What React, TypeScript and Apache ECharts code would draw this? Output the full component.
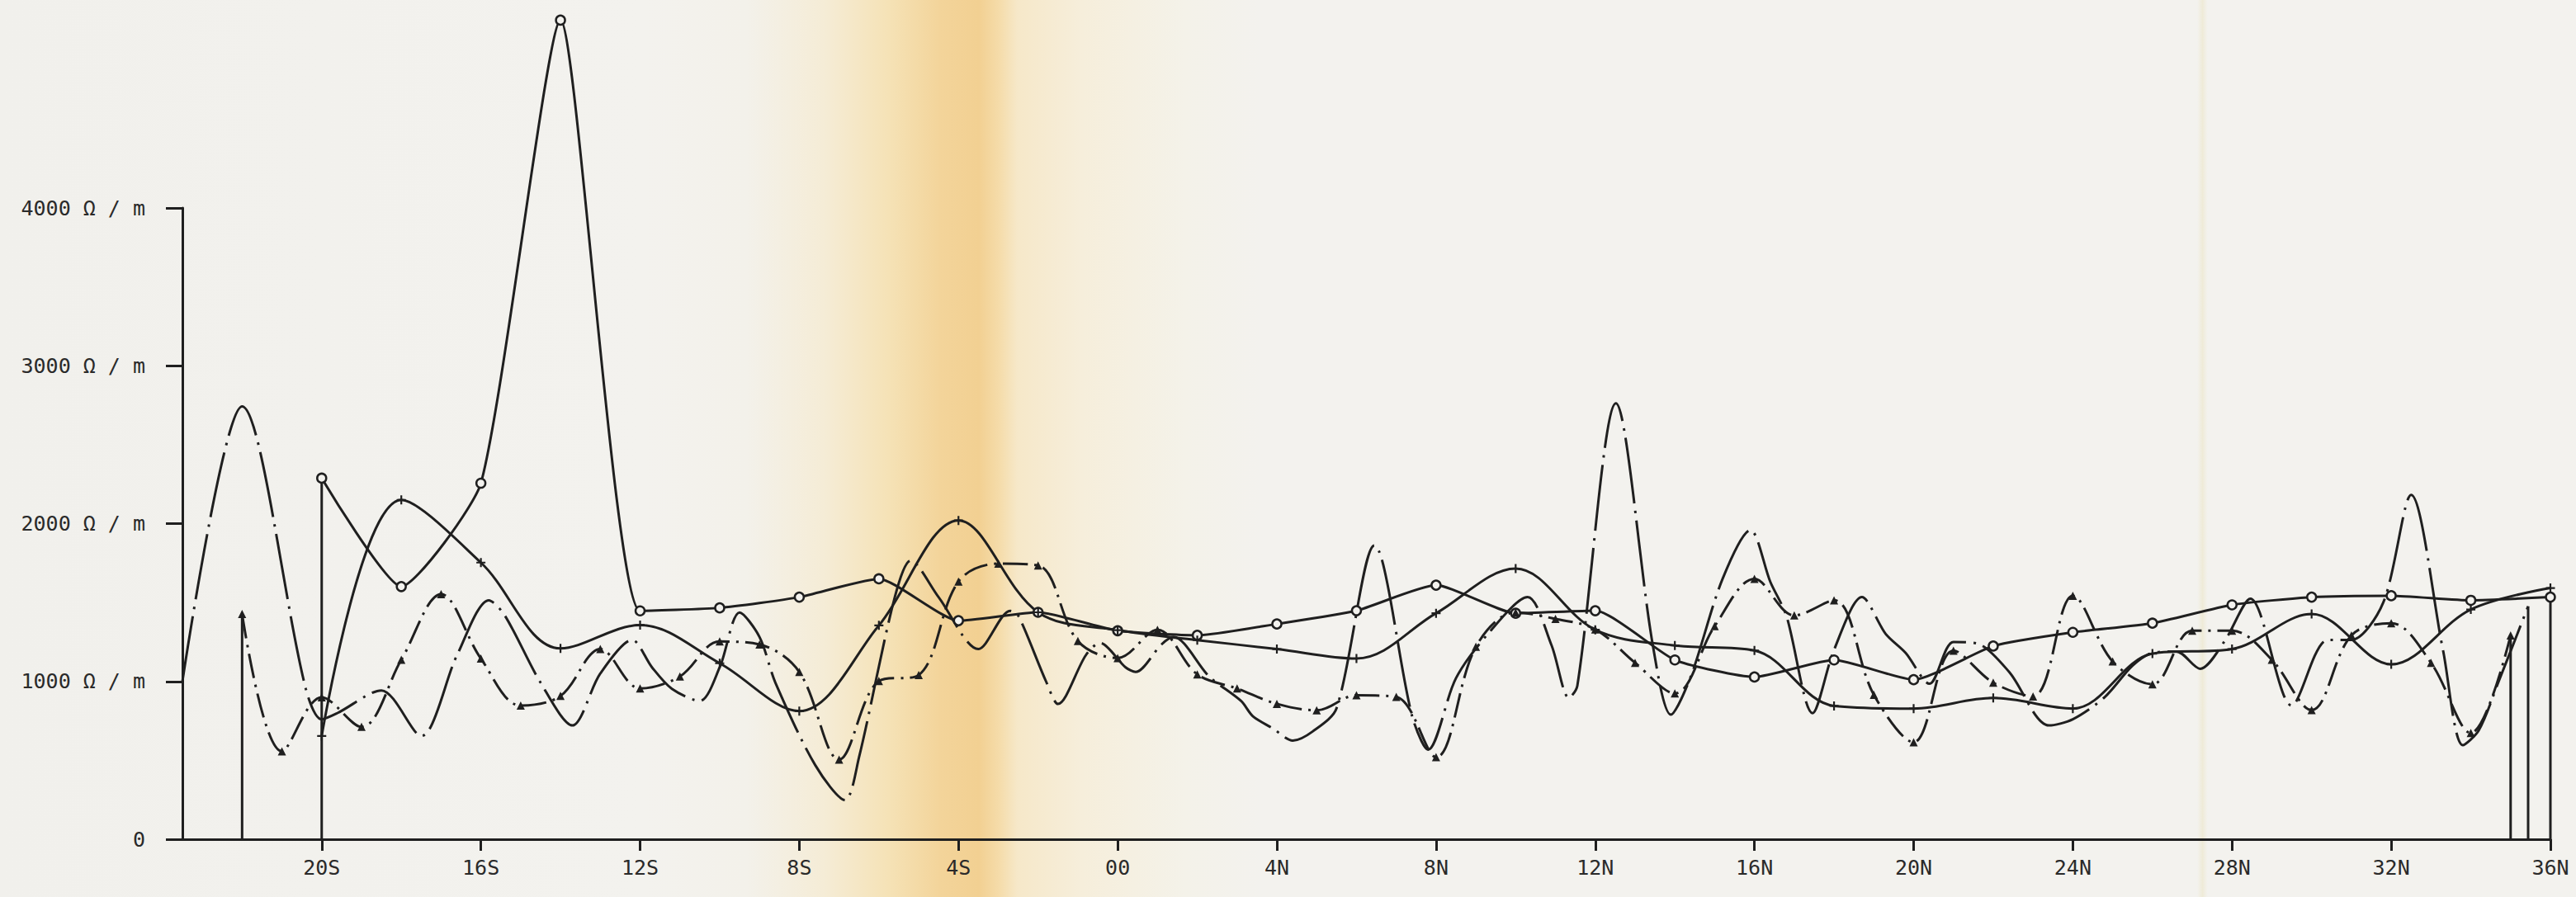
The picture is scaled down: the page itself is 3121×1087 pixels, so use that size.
import React, { useEffect, useRef } from 'react';
import * as echarts from 'echarts';

// Latitude ticks (negative = South, positive = North)
const xTicks = [-20, -16, -12, -8, -4, 0, 4, 8, 12, 16, 20, 24, 28, 32, 36];
const yTicks = [0, 1000, 2000, 3000, 4000];

// Series marked with open circles (solid line)
const circleSeries: [number, number][] = [
  [-20, 2288], [-18, 1601], [-16, 2256], [-14, 5190], [-12, 1447], [-10, 1466],
  [-8, 1534], [-6, 1650], [-4, 1385], [-2, 1438], [0, 1321], [2, 1292], [4, 1364],
  [6, 1448], [8, 1610], [10, 1432], [12, 1448], [14, 1136], [16, 1028], [18, 1136],
  [20, 1011], [22, 1224], [24, 1311], [26, 1369], [28, 1485], [30, 1534], [32, 1543],
  [34, 1514], [36, 1534],
];

// Series marked with crosses (solid line)
const plusSeries: [number, number][] = [
  [-20, 654], [-18, 2150], [-16, 1753], [-14, 1209], [-12, 1357], [-10, 1115],
  [-8, 812], [-6, 1355], [-4, 2020], [-2, 1438], [0, 1325], [2, 1262], [4, 1205],
  [6, 1145], [8, 1432], [10, 1715], [12, 1327], [14, 1228], [16, 1196], [18, 845],
  [20, 828], [22, 895], [24, 828], [26, 1176], [28, 1205], [30, 1427], [32, 1108],
  [34, 1456], [36, 1592],
];

// Series marked with triangles (dash-dot line)
const triangleSeries: [number, number][] = [
  [-22, 1427], [-21, 557], [-20, 900], [-19, 712], [-18, 1137], [-17, 1553],
  [-16, 1145], [-15, 847], [-14, 908], [-13, 1205], [-12, 955], [-11, 1031],
  [-10, 1253], [-9, 1234], [-8, 1060], [-7, 505], [-6, 1002], [-5, 1040],
  [-4, 1633], [-3, 1746], [-2, 1735], [-1, 1256], [0, 1148], [1, 1327], [2, 1045],
  [3, 955], [4, 858], [5, 817], [6, 912], [7, 902], [8, 520], [9, 1219], [10, 1437],
  [11, 1396], [12, 1330], [13, 1118], [14, 924], [15, 1350], [16, 1650], [17, 1418],
  [18, 1514], [19, 915], [20, 615], [21, 1195], [22, 992], [23, 905], [24, 1543],
  [25, 1127], [26, 982], [27, 1321], [28, 1321], [29, 1137], [30, 818], [31, 1292],
  [32, 1369], [33, 1118], [34, 673], [35, 1292],
];

// Series marked with dots (long dash-dot line with spikes)
const dotSeries: [number, number][] = [
  [-23.5, 1000], [-22, 2742], [-20.4, 953], [-20, 760], [-19.6, 800], [-18.5, 943],
  [-17.5, 654], [-16.6, 1166], [-15.8, 1514], [-15.4, 1418], [-14.5, 992],
  [-13.7, 721], [-13, 1050], [-12.2, 1263], [-11.7, 1089], [-11.2, 953],
  [-10.5, 876], [-10, 1089], [-9.5, 1437], [-9, 1282], [-8.6, 992], [-7.6, 470],
  [-6.85, 248], [-6.5, 518], [-5.6, 1534], [-5.2, 1766], [-4.5, 1534], [-3.5, 1205],
  [-2.7, 1447], [-2.5, 1418], [-1.8, 1000], [-1.5, 857], [-0.8, 1166], [-0.45, 1244],
  [0.2, 1089], [0.45, 1060], [1.1, 1234], [1.4, 1282], [2.3, 1031], [3.1, 876],
  [3.4, 779], [3.9, 702], [4.4, 625], [4.9, 683], [5.5, 830], [6.45, 1862],
  [7.4, 779], [7.8, 567], [8.5, 1020], [9.3, 1300], [10.3, 1534], [10.9, 1230],
  [11.34, 895], [11.55, 973], [12.52, 2762], [13.45, 1224], [13.9, 789], [14.4, 1031],
  [15.2, 1650], [15.9, 1959], [16.4, 1630], [16.8, 1418], [17.46, 799], [18, 1200],
  [18.7, 1534], [19.3, 1300], [19.8, 1180], [20.4, 985], [21, 1250], [21.6, 1240],
  [22.4, 1060], [23.4, 721], [24, 760], [24.8, 900], [25.5, 1100], [26, 1180],
  [26.6, 1190], [27.2, 1080], [27.8, 1250], [28.46, 1524], [29.5, 847], [30.4, 1263],
  [31, 1263], [31.8, 1500], [32.5, 2182], [33.3, 1200], [33.8, 596], [34.2, 690],
  [34.7, 1000], [35.44, 1476],
];

const latLabel = (v: number) => (v === 0 ? '00' : v < 0 ? `${-v}S` : `${v}N`);

export default function App() {
  const ref = useRef<HTMLDivElement>(null);

  useEffect(() => {
    if (!ref.current) return;
    const chart = echarts.init(ref.current, undefined, { renderer: 'svg' });
    const ink = '#1f1f1f';
    const paper = '#f3f2ee';
    const plusPath = 'path://M4,0H6V4H10V6H6V10H4V6H0V4H4Z';
    const labelFont = 'DejaVu Sans Mono';

    const drops = [
      circleSeries[0],
      circleSeries[circleSeries.length - 1],
      triangleSeries[0],
      triangleSeries[triangleSeries.length - 1],
      dotSeries[dotSeries.length - 1],
    ];

    const mainSeries: any[] = [
      {
        name: 'o',
        type: 'line',
        data: circleSeries,
        smooth: 0.18,
        clip: false,
        symbol: 'circle',
        symbolSize: 11,
        itemStyle: { color: paper, borderColor: ink, borderWidth: 2.5 },
        lineStyle: { color: ink, width: 3 },
        z: 3,
      },
      {
        name: '+',
        type: 'line',
        data: plusSeries,
        smooth: 0.35,
        clip: false,
        symbol: plusPath,
        symbolSize: 11,
        itemStyle: { color: ink },
        lineStyle: { color: ink, width: 3 },
        z: 3,
      },
      {
        name: '▲',
        type: 'line',
        data: triangleSeries,
        smooth: 0.35,
        clip: false,
        symbol: 'triangle',
        symbolSize: 10,
        itemStyle: { color: ink },
        lineStyle: { color: ink, width: 3, type: [30, 8, 3, 8] },
        z: 3,
      },
      {
        name: '·',
        type: 'line',
        data: dotSeries,
        smooth: 0.3,
        clip: false,
        symbol: 'none',
        lineStyle: { color: ink, width: 3, type: [80, 9, 3, 9] },
        z: 3,
      },
    ];

    const dropSeries = drops.map((p, i) => ({
      name: `drop${i}`,
      type: 'line',
      data: [[p[0], 0], p],
      symbol: 'none',
      clip: false,
      silent: true,
      lineStyle: { color: ink, width: 3 },
      z: 2,
    }));

    chart.setOption({
      animation: false,
      backgroundColor: 'transparent',
      grid: { left: 221, right: 31, top: 252, bottom: 70, containLabel: false, outerBoundsMode: 'none' },
      xAxis: {
        type: 'value',
        min: -23.5,
        max: 36,
        splitLine: { show: false },
        axisLine: { show: true, onZero: false, lineStyle: { color: ink, width: 3 } },
        axisTick: { show: true, customValues: xTicks, length: 14, lineStyle: { color: ink, width: 3 } },
        axisLabel: {
          customValues: xTicks,
          formatter: (v: number) => latLabel(v),
          margin: 22,
          fontSize: 25,
          fontFamily: labelFont,
          color: '#2a2a2a',
        },
      },
      yAxis: {
        type: 'value',
        min: 0,
        max: 4000,
        interval: 1000,
        splitLine: { show: false },
        axisLine: { show: true, onZero: false, lineStyle: { color: ink, width: 3 } },
        axisTick: { show: true, length: 20, lineStyle: { color: ink, width: 3 } },
        axisLabel: {
          customValues: yTicks,
          formatter: (v: number) => (v === 0 ? '0' : `${v} Ω / m`),
          margin: 45,
          fontSize: 25,
          fontFamily: labelFont,
          color: '#2a2a2a',
        },
      },
      series: [...dropSeries, ...mainSeries],
    });

    return () => chart.dispose();
  }, []);

  return (
    <div
      ref={ref}
      style={{
        position: 'fixed',
        left: 0,
        top: 0,
        width: '3121px',
        height: '1087px',
        background:
          'linear-gradient(90deg, #f1f0ec 0%, #f3f2ee 25%, #f3f1ea 29%, #f5ecd6 32%, #f5e2b6 34.5%, #f3d49a 36.5%, #f2d092 38%, #f5dcaa 38.8%, #f6e8c9 39.5%, #f6eedb 42%, #f4f2e9 46%, #f3f2ee 49%, #f3f2ee 85.3%, #efebd8 85.5%, #f3f2ee 85.7%, #f3f2ee 100%)',
      }}
    />
  );
}
